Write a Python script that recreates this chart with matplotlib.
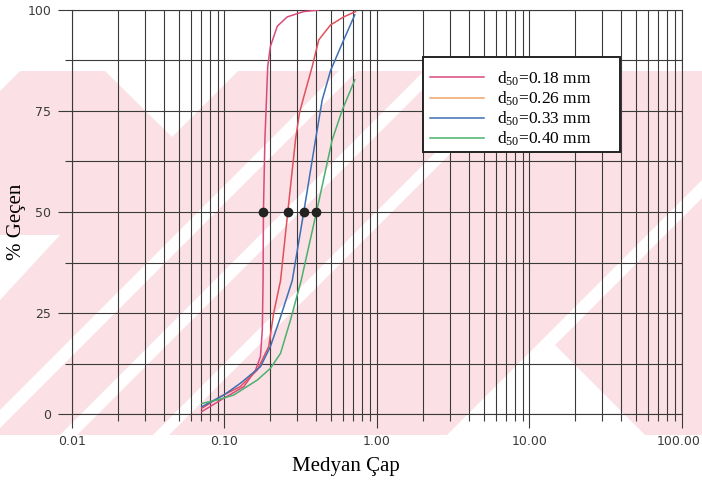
import numpy as np
import matplotlib.pyplot as plt
import matplotlib.transforms as mtransforms
from matplotlib.patches import Polygon, Rectangle
from matplotlib.ticker import FixedLocator, NullFormatter

plt.rcParams['mathtext.fontset'] = 'custom'
plt.rcParams['mathtext.rm'] = 'Liberation Serif'
plt.rcParams['mathtext.default'] = 'regular'

# grain size curves (diameter in mm, percent passing)
labels = ['0.18', '0.26', '0.33', '0.40']

d_018 = [0.071, 0.099, 0.134, 0.160, 0.172, 0.177, 0.179, 0.180, 0.184, 0.192, 0.200, 0.222, 0.258, 0.330, 0.413]
p_018 = [0.6, 3.9, 6.8, 10.9, 14.2, 20.8, 33.0, 50.0, 67.8, 86.0, 91.0, 96.0, 98.3, 99.6, 100.0]

d_026 = [0.071, 0.094, 0.127, 0.164, 0.195, 0.210, 0.233, 0.260, 0.292, 0.310, 0.331, 0.376, 0.415, 0.496, 0.606, 0.723]
p_026 = [1.4, 4.3, 6.8, 10.9, 16.7, 24.9, 33.0, 50.0, 67.8, 74.5, 78.5, 86.0, 92.6, 96.3, 98.3, 99.6]

d_033 = [0.071, 0.099, 0.127, 0.172, 0.200, 0.233, 0.278, 0.331, 0.395, 0.437, 0.496, 0.591, 0.715]
p_033 = [1.8, 4.7, 7.6, 11.7, 16.7, 24.0, 33.0, 50.0, 67.8, 77.7, 85.0, 91.7, 98.8]

d_040 = [0.071, 0.090, 0.115, 0.164, 0.200, 0.233, 0.271, 0.318, 0.401, 0.508, 0.591, 0.715]
p_040 = [2.6, 3.5, 4.7, 8.4, 11.3, 15.0, 23.3, 33.0, 50.0, 67.8, 75.2, 82.7]

d50 = [0.18, 0.26, 0.33, 0.40]

curves = [(d_018, p_018), (d_026, p_026), (d_033, p_033), (d_040, p_040)]
line_colors = ['#d94a7e', '#e2505a', '#3f6fb3', '#4bb06e']
legend_colors = ['#d94a7e', '#eda46c', '#3f6fb3', '#4bb06e']

W, H = 702, 490
fig = plt.figure(figsize=(W / 100, H / 100), dpi=100)


def px(pts):
    return [(x / W, 1 - y / H) for x, y in pts]


# faint watermark in the background
pink = '#fbe1e5'
fig.patches.append(Polygon(px([(0, 71), (702, 71), (702, 435), (0, 435)]),
                           closed=True, transform=fig.transFigure, fc=pink, ec='none', zorder=0))
white_bits = [
    [(105, 71), (238, 71), (172, 137)],
    [(0, 71), (20, 71), (0, 91)],
    [(0, 235), (60, 235), (0, 300)],
    [(548, 338), (451, 435), (645, 435)],
    [(339, 71), (357, 71), (-7, 435), (-25, 435)],
    [(424, 71), (441, 71), (77, 435), (60, 435)],
    [(517, 71), (533, 71), (169, 435), (153, 435)],
    [(811, 71), (829, 71), (465, 435), (447, 435)],
]
for poly in white_bits:
    fig.patches.append(Polygon(px(poly), closed=True, transform=fig.transFigure,
                               fc='white', ec='none', zorder=0))

ax = fig.add_axes([72 / W, 1 - 414 / H, 610 / W, 404 / H])
ax.set_zorder(2)
ax.set_facecolor('none')
ax.set_xscale('log')
ax.set_xlim(0.01, 100)
ax.set_ylim(0, 100)

grid_c = '#3a3a3a'
ax.xaxis.set_major_locator(FixedLocator([0.01, 0.1, 1, 10, 100]))
ax.set_xticklabels(['0.01', '0.10', '1.00', '10.00', '100.00'])
minors = [m * 10.0 ** e for e in range(-2, 2) for m in range(2, 10)]
ax.xaxis.set_minor_locator(FixedLocator(minors))
ax.xaxis.set_minor_formatter(NullFormatter())
ax.yaxis.set_major_locator(FixedLocator([0, 25, 50, 75, 100]))
ax.yaxis.set_minor_locator(FixedLocator([12.5, 37.5, 62.5, 87.5]))

ax.grid(True, which='both', color=grid_c, lw=0.8)
ax.set_axisbelow(True)
ax.tick_params(which='major', length=10, width=0.8, color=grid_c, labelsize=9,
               labelcolor='#3a3a3a', pad=5)
ax.tick_params(which='minor', length=5, width=0.8, color=grid_c)
for s in ax.spines.values():
    s.set_color(grid_c)
    s.set_linewidth(0.8)

# keep the last x label inside the picture
last = ax.get_xticklabels()[-1]
last.set_transform(last.get_transform() + mtransforms.ScaledTranslation(-3 / 100, 0, fig.dpi_scale_trans))

for (d, p), c in zip(curves, line_colors):
    ax.plot(d, p, color=c, lw=1.1, zorder=3)

ax.plot(d50, [50] * len(d50), 'o', color='#222222', ms=6, zorder=4)

# legend box drawn by hand so its size matches
box_x0, box_y0 = (423 - 72) / 610, (414 - 152) / 404
box_w, box_h = (620 - 423) / 610, (152 - 57) / 404
ax.add_patch(Rectangle((box_x0, box_y0), box_w, box_h, transform=ax.transAxes,
                       fc='white', ec='#222222', lw=1.4, zorder=5))
handles = [plt.Line2D([], [], color=c, lw=1.1) for c in legend_colors]
texts = ['d$_{50}$=' + v + ' mm' for v in labels]
leg = ax.legend(handles, texts, loc='upper left', bbox_to_anchor=(box_x0, 0.87),
                prop={'family': 'Liberation Serif', 'size': 12.5}, frameon=False,
                handlelength=3.1, handletextpad=0.75, labelspacing=0.1,
                borderpad=0.4, borderaxespad=0)
leg.set_zorder(6)

ax.set_xlabel('Medyan Çap', family='Liberation Serif', fontsize=15)
ax.xaxis.set_label_coords((346 - 72) / 610, -(457 - 414) / 404)
ax.set_ylabel('% Geçen', family='Liberation Serif', fontsize=15)
ax.yaxis.set_label_coords(-(72 - 26) / 610, (414 - 222) / 404)

fig.savefig('out.png', dpi=100)
